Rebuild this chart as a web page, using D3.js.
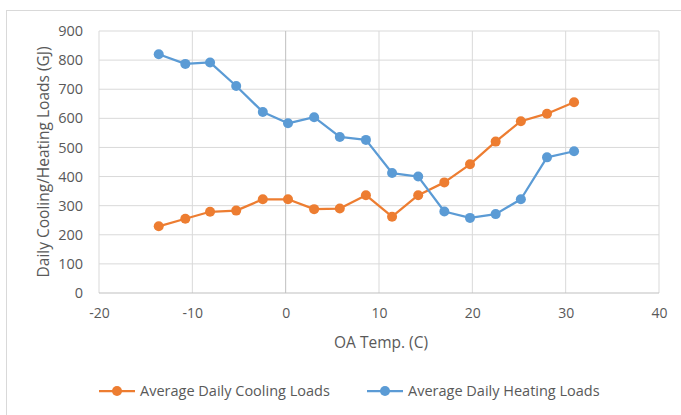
<!DOCTYPE html>
<html>
<head>
<meta charset="utf-8">
<script src="https://cdn.jsdelivr.net/npm/d3@7"></script>
<style>
  body { margin: 0; background: #fff; }
  svg text { font-family: "Open Sans", "Liberation Sans", sans-serif; fill: #595959; }
</style>
</head>
<body>
<div id="grafico"></div>
<script>
// Dados
const temperaturas = [-13.6, -10.75, -8.1, -5.3, -2.45, 0.25, 3.05, 5.8, 8.6, 11.4, 14.2, 17.0, 19.75, 22.5, 25.2, 28.0, 30.9];
const resfriamento = [229, 255, 279, 283, 322, 322, 288, 290, 336, 262, 336, 380, 442, 520, 590, 616, 655];
const aquecimento = [820, 787, 792, 711, 622, 583, 604, 536, 526, 412, 400, 280, 258, 271, 322, 466, 487];
const ticksX = [-20, -10, 0, 10, 20, 30, 40];
const ticksY = [0, 100, 200, 300, 400, 500, 600, 700, 800, 900];

const series = [
  { nome: 'Average Daily Cooling Loads', valores: resfriamento, cor: '#ED7D31' },
  { nome: 'Average Daily Heating Loads', valores: aquecimento, cor: '#5B9BD5' }
];

const largura = 681;
const altura = 415;
const margem = { top: 31, right: 22, bottom: 122, left: 99 };

const svg = d3.select('#grafico')
  .append('svg')
  .attr('width', largura)
  .attr('height', altura);

// moldura do gráfico
svg.append('rect')
  .attr('x', 6.5).attr('y', 10.5)
  .attr('width', largura).attr('height', altura)
  .attr('fill', 'none')
  .attr('stroke', '#d9d9d9');

const escalaX = d3.scaleLinear()
  .domain([-20, 40])
  .range([margem.left, largura - margem.right]);

const escalaY = d3.scaleLinear()
  .domain([0, 900])
  .range([altura - margem.bottom, margem.top]);

// grade
svg.append('g')
  .selectAll('line')
  .data(ticksY.slice(1))
  .enter()
  .append('line')
  .attr('x1', escalaX(-20)).attr('x2', escalaX(40))
  .attr('y1', d => escalaY(d)).attr('y2', d => escalaY(d))
  .attr('stroke', '#d9d9d9');

svg.append('g')
  .selectAll('line')
  .data(ticksX.filter(d => d !== 0))
  .enter()
  .append('line')
  .attr('x1', d => escalaX(d)).attr('x2', d => escalaX(d))
  .attr('y1', escalaY(0)).attr('y2', escalaY(900))
  .attr('stroke', '#d9d9d9');

// eixos (linhas)
svg.append('line')
  .attr('x1', escalaX(0)).attr('x2', escalaX(0))
  .attr('y1', escalaY(0)).attr('y2', escalaY(900))
  .attr('stroke', '#bfbfbf');

svg.append('line')
  .attr('x1', escalaX(-20)).attr('x2', escalaX(40))
  .attr('y1', escalaY(0)).attr('y2', escalaY(0))
  .attr('stroke', '#bfbfbf');

// rótulos dos eixos (hífen simples, como no Excel)
const eixoX = d3.axisBottom(escalaX).tickValues(ticksX).tickSize(0).tickPadding(15)
  .tickFormat(d => String(d));
const gX = svg.append('g')
  .attr('transform', `translate(0,${escalaY(0)})`)
  .call(eixoX);
gX.select('.domain').remove();
gX.selectAll('text').style('font-size', '14px').attr('fill', '#595959');

const eixoY = d3.axisLeft(escalaY).tickValues(ticksY).tickSize(0).tickPadding(16)
  .tickFormat(d => String(d));
const gY = svg.append('g')
  .attr('transform', `translate(${margem.left},0)`)
  .call(eixoY);
gY.select('.domain').remove();
gY.selectAll('text').style('font-size', '14.5px').attr('fill', '#595959');

// títulos dos eixos
svg.append('text')
  .attr('x', (escalaX(-20) + escalaX(40)) / 2 + 2)
  .attr('y', 348)
  .attr('text-anchor', 'middle')
  .style('font-size', '15.5px')
  .text('OA Temp. (C)');

svg.append('text')
  .attr('transform', `translate(49,${(escalaY(0) + escalaY(900)) / 2}) rotate(-90)`)
  .attr('text-anchor', 'middle')
  .style('font-size', '15.5px')
  .text('Daily Cooling/Heating Loads (GJ)');

// linhas e marcadores
const linha = d3.line()
  .x((d, i) => escalaX(temperaturas[i]))
  .y(d => escalaY(d));

for (let s of series) {
  svg.append('path')
    .attr('d', linha(s.valores))
    .attr('fill', 'none')
    .attr('stroke', s.cor)
    .attr('stroke-width', 2.25)
    .attr('stroke-linejoin', 'round');

  svg.append('g')
    .selectAll('circle')
    .data(s.valores)
    .enter()
    .append('circle')
    .attr('cx', (d, i) => escalaX(temperaturas[i]))
    .attr('cy', d => escalaY(d))
    .attr('r', 5)
    .attr('fill', s.cor);
}

// legenda
const posLegenda = [99, 367];
series.forEach((s, i) => {
  const g = svg.append('g').attr('transform', `translate(${posLegenda[i]},391)`);
  g.append('line').attr('x1', 0).attr('x2', 36).attr('y1', 0).attr('y2', 0)
    .attr('stroke', s.cor).attr('stroke-width', 2.25);
  g.append('circle').attr('cx', 18).attr('cy', 0).attr('r', 5).attr('fill', s.cor);
  g.append('text').attr('x', 41).attr('y', 5)
    .style('font-size', '14.5px')
    .text(s.nome);
});
</script>
</body>
</html>
